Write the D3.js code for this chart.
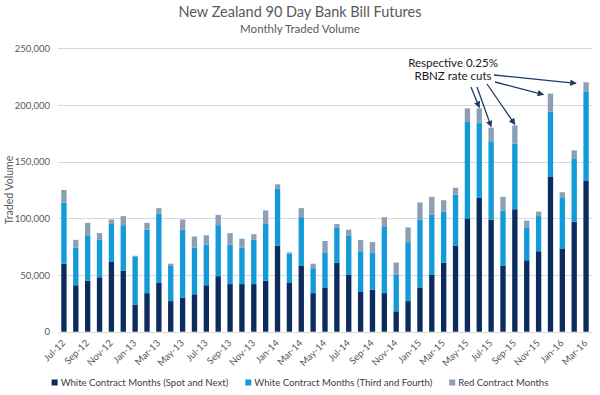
<!DOCTYPE html>
<html>
<head>
<meta charset="utf-8">
<script src="https://cdnjs.cloudflare.com/ajax/libs/d3/7.8.5/d3.min.js"></script>
<style>
    body { margin: 0; background: #fff; }
    svg { font-family: Lato, 'Open Sans', sans-serif; }
</style>
</head>
<body>
<svg id="chart" width="600" height="395"></svg>
<script>

// Data (monthly traded volume)
const months = ['Jul-12', 'Aug-12', 'Sep-12', 'Oct-12', 'Nov-12', 'Dec-12',
    'Jan-13', 'Feb-13', 'Mar-13', 'Apr-13', 'May-13', 'Jun-13', 'Jul-13', 'Aug-13', 'Sep-13', 'Oct-13', 'Nov-13', 'Dec-13',
    'Jan-14', 'Feb-14', 'Mar-14', 'Apr-14', 'May-14', 'Jun-14', 'Jul-14', 'Aug-14', 'Sep-14', 'Oct-14', 'Nov-14', 'Dec-14',
    'Jan-15', 'Feb-15', 'Mar-15', 'Apr-15', 'May-15', 'Jun-15', 'Jul-15', 'Aug-15', 'Sep-15', 'Oct-15', 'Nov-15', 'Dec-15',
    'Jan-16', 'Feb-16', 'Mar-16'];

const spotNext = [60000, 41000, 45000, 48000, 62000, 54000,
    24000, 34000, 43000, 27000, 30000, 33000, 41000, 49000, 42000, 42000, 42000, 45000,
    76000, 43000, 58000, 34000, 39000, 61000, 50000, 35000, 37000, 34000, 18000, 27000,
    39000, 50000, 61000, 76000, 100000, 118000, 99000, 58000, 108000, 63000, 71000, 137000,
    73000, 97000, 133000];

const thirdFourth = [54000, 33000, 40000, 33000, 33000, 40000,
    42000, 56000, 61000, 31000, 60000, 41000, 36000, 45000, 35000, 32000, 39000, 50000,
    50000, 26000, 43000, 22000, 31000, 31000, 35000, 36000, 33000, 59000, 32000, 52000,
    60000, 53000, 45000, 45000, 85000, 66000, 69000, 49000, 58000, 29000, 31000, 57000,
    45000, 56000, 79000];

const redMonths = [11000, 7000, 11000, 6000, 4000, 8000,
    1000, 6000, 5000, 2000, 9000, 10000, 8000, 9000, 10000, 8000, 5000, 12000,
    4000, 1000, 8000, 4000, 10000, 3000, 5000, 10000, 9000, 8000, 11000, 13000,
    15000, 16000, 10000, 6000, 12000, 13000, 12000, 12000, 16000, 6000, 4000, 16000,
    5000, 7000, 8000];

const seriesNames = ['White Contract Months (Spot and Next)',
    'White Contract Months (Third and Fourth)',
    'Red Contract Months'];

const yTicks = [0, 50000, 100000, 150000, 200000, 250000];

// months that carry an arrow from the annotation
const rateCutMonths = ['Jun-15', 'Jul-15', 'Sep-15', 'Dec-15', 'Mar-16'];

const chart = (function () {

    let svg = d3.select('#chart'),
        width = 600,
        margin = {top: 48.3, right: 8, bottom: 63.3, left: 58},
        plotBottom = 395 - margin.bottom,
        colors = ['#0b2c5c', '#129bd8', '#8c9fb4'],
        keys = ['spot', 'third', 'red'],
        textColor = '#595959',
        x = null,
        y = null,
        stacked = null
        ;

    return { init };

    function init() {

        let rows = months.map(function (m, i) {
            return {month: m, spot: spotNext[i], third: thirdFourth[i], red: redMonths[i]};
        });

        stacked = d3.stack().keys(keys)(rows);

        x = d3.scaleBand()
            .domain(months)
            .range([margin.left, width - margin.right])
            .paddingInner(0.55)
            .paddingOuter(0.275);

        y = d3.scaleLinear()
            .domain([0, 250000])
            .range([plotBottom, margin.top]);

        drawTitles();
        drawAxes();
        drawBars();
        drawAnnotation();
        drawLegend();
    }

    function drawTitles() {
        svg.append('text')
            .attr('x', 300).attr('y', 17)
            .attr('text-anchor', 'middle')
            .style('font-size', '14.5px')
            .style('fill', textColor)
            .text('New Zealand 90 Day Bank Bill Futures');

        svg.append('text')
            .attr('x', 300).attr('y', 33)
            .attr('text-anchor', 'middle')
            .style('font-size', '11.5px')
            .style('fill', textColor)
            .text('Monthly Traded Volume');
    }

    function drawAxes() {

        //gridlines first so the bars sit on top
        svg.append('g')
            .selectAll('line')
            .data(yTicks)
            .enter().append('line')
            .attr('x1', margin.left)
            .attr('x2', width - margin.right)
            .attr('y1', function (d) { return Math.round(y(d)) + 0.5; })
            .attr('y2', function (d) { return Math.round(y(d)) + 0.5; })
            .style('stroke', '#d9d9d9')
            .style('stroke-width', 1);

        let yAxis = svg.append('g')
            .attr('transform', 'translate(' + margin.left + ',0)')
            .call(d3.axisLeft(y).tickValues(yTicks).tickFormat(d3.format(',')).tickSize(0).tickPadding(8));

        yAxis.select('.domain').remove();
        yAxis.selectAll('text')
            .style('font-size', '9.5px')
            .style('fill', textColor)
            .style('font-family', 'Lato, sans-serif');

        //only every other month is labelled
        let xAxis = svg.append('g')
            .attr('transform', 'translate(0,' + plotBottom + ')')
            .call(d3.axisBottom(x)
                .tickValues(months.filter(function (d, i) { return i % 2 == 0; }))
                .tickSize(0));

        xAxis.select('.domain').remove();
        xAxis.selectAll('text')
            .attr('text-anchor', 'end')
            .attr('dy', null)
            .attr('y', null)
            .attr('transform', 'translate(2,12) rotate(-45)')
            .style('font-size', '9.5px')
            .style('fill', textColor)
            .style('font-family', 'Lato, sans-serif');

        svg.append('text')
            .attr('transform', 'translate(13,' + y(125000) + ') rotate(-90)')
            .attr('text-anchor', 'middle')
            .style('font-size', '10.5px')
            .style('fill', textColor)
            .text('Traded Volume');
    }

    function drawBars() {
        svg.append('g')
            .selectAll('g')
            .data(stacked)
            .enter().append('g')
            .style('fill', function (d, i) { return colors[i]; })
            .selectAll('rect')
            .data(function (d) { return d; })
            .enter().append('rect')
            .attr('x', function (d) { return x(d.data.month); })
            .attr('width', x.bandwidth())
            .attr('y', function (d) { return y(d[1]); })
            .attr('height', function (d) { return y(d[0]) - y(d[1]); });
    }

    function drawAnnotation() {

        let top = stacked[stacked.length - 1];

        svg.append('defs').append('marker')
            .attr('id', 'arrow')
            .attr('viewBox', '0 0 10 10')
            .attr('refX', 9).attr('refY', 5)
            .attr('markerWidth', 5).attr('markerHeight', 5)
            .attr('orient', 'auto-start-reverse')
            .append('path')
            .attr('d', 'M0,0 L10,5 L0,10 z')
            .style('fill', '#1f3a63');

        let label = svg.append('text')
            .attr('text-anchor', 'middle')
            .style('font-size', '11.5px')
            .style('fill', '#1a1a1a');
        label.append('tspan').attr('x', 453).attr('y', 67).text('Respective 0.25%');
        label.append('tspan').attr('x', 453).attr('y', 80).text('RBNZ rate cuts');

        //start points next to the label, end points at the bar tops
        let starts = [[471, 87], [477, 87], [487, 84], [495, 82], [494, 75]];
        let endShift = [0, 0, 0, -7, -10];

        svg.append('g')
            .selectAll('line')
            .data(rateCutMonths)
            .enter().append('line')
            .attr('x1', function (d, i) { return starts[i][0]; })
            .attr('y1', function (d, i) { return starts[i][1]; })
            .attr('x2', function (d, i) { return x(d) + x.bandwidth() / 2 + endShift[i]; })
            .attr('y2', function (d, i) {
                let v = top[months.indexOf(d)][1];
                return y(v) - (endShift[i] == 0 ? 1 : -1);
            })
            .style('stroke', '#1f3a63')
            .style('stroke-width', 1.3)
            .attr('marker-end', 'url(#arrow)');
    }

    function drawLegend() {

        let legend = svg.append('g');
        let cursor = 0;

        seriesNames.forEach(function (name, i) {
            let item = legend.append('g')
                .attr('transform', 'translate(' + cursor + ',0)');

            item.append('rect')
                .attr('width', 6).attr('height', 6)
                .attr('y', -6.5)
                .style('fill', colors[i]);

            let t = item.append('text')
                .attr('x', 9)
                .style('font-size', '9.6px')
                .style('fill', '#404040')
                .text(name);

            cursor += 9 + t.node().getComputedTextLength() + 17;
        });

        //center the legend under the chart
        let w = cursor - 17;
        legend.attr('transform', 'translate(' + (300 - w / 2) + ',386)');
    }

}());

chart.init();

</script>
</body>
</html>
